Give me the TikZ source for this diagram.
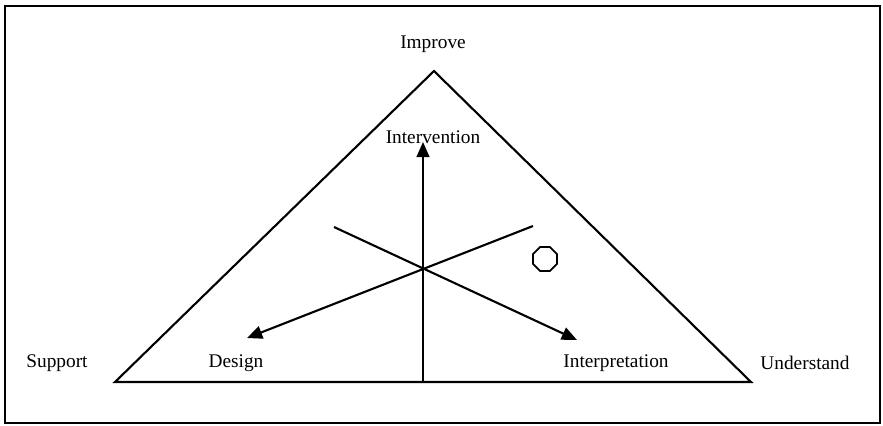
\documentclass[tikz,border=0pt]{standalone}
\usepackage{fontspec}
\setmainfont{Liberation Serif}
\usetikzlibrary{arrows.meta,positioning,shapes.geometric}

\begin{document}
\begin{tikzpicture}[x=0.03cm, y=-0.03cm, line width=1.8pt,
    lbl/.style={font=\fontsize{16.5}{19}\selectfont, inner sep=0pt},
    arr/.style={-{Triangle[length=13pt,width=11pt]}}]
    \useasboundingbox (0,0) rectangle (883,426);
    \draw[line width=1.4pt] (5,6) rectangle (880,423);
    % triangle corners
    \coordinate (top) at (434,71);
    \coordinate (left) at (115,382);
    \coordinate (right) at (751,382);
    \draw[line join=miter] (top) -- (right) -- (left) -- cycle;
    % axes through the centre
    \coordinate (c) at (423,269);
    \coordinate (base) at (423,382);
    \coordinate (ul) at (334,227);
    \coordinate (ur) at (533,226);
    \coordinate (tipI) at (423,142);
    \coordinate (tipD) at (247,338);
    \coordinate (tipP) at (577,340);
    \draw[arr] (base) -- (tipI);
    \draw[arr] (ur) -- (tipD);
    \draw[arr] (ul) -- (tipP);
    \node[draw, regular polygon, regular polygon sides=8, minimum size=22pt, inner sep=0pt, line width=1.5pt] (oct) at (545,259) {};
    % labels
    \node[lbl] (improve) at (433,44) {Improve};
    \node[lbl] (interv) at (433,137) {Intervention};
    \node[lbl] (support) at (57,363) {Support};
    \node[lbl] (design) at (236,363) {Design};
    \node[lbl] (interp) at (616,363) {Interpretation};
    \node[lbl] (underst) at (805,363) {Understand};
\end{tikzpicture}
\end{document}
